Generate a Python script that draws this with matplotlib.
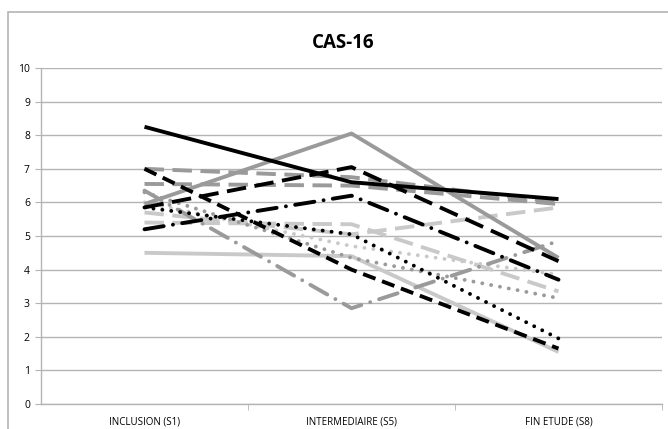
import matplotlib
matplotlib.use("Agg")
import matplotlib.pyplot as plt
from matplotlib.patches import Rectangle

# categories (x axis)
categories = ["INCLUSION (S1)", "INTERMEDIAIRE (S5)", "FIN ETUDE (S8)"]

# one score per visit
black_solid = [8.25, 6.6, 6.1]
gray_solid = [5.95, 8.05, 4.35]
lgray_solid = [4.5, 4.4, 1.55]
black_longdash = [5.85, 7.05, 4.25]
black_dashdot = [5.2, 6.2, 3.7]
black_dash = [7.0, 4.0, 1.65]
black_dot = [5.85, 5.05, 1.95]
gray_dash_a = [7.0, 6.75, 6.0]
gray_dash_b = [6.55, 6.5, 5.95]
gray_dashdot = [6.35, 2.85, 4.85]
gray_dot = [6.3, 4.35, 3.15]
lgray_dash_a = [5.4, 5.35, 3.35]
lgray_dash_b = [5.7, 5.05, 5.85]
lgray_dot = [6.0, 4.7, 3.85]

BLACK = "#000000"
GRAY = "#9a9a9a"
LGRAY = "#c9c9c9"

LONG = (5.0, 2.2)
DASH = (3.4, 1.8)
DOT = (0.01, 2.3)
DASHDOT = (5.0, 2.4, 0.01, 2.4)

series = [
    (lgray_dot, LGRAY, DOT),
    (lgray_dash_b, LGRAY, LONG),
    (lgray_dash_a, LGRAY, LONG),
    (lgray_solid, LGRAY, None),
    (gray_dot, GRAY, DOT),
    (gray_dashdot, GRAY, DASHDOT),
    (gray_dash_b, GRAY, LONG),
    (gray_dash_a, GRAY, LONG),
    (gray_solid, GRAY, None),
    (black_dot, BLACK, DOT),
    (black_dash, BLACK, DASH),
    (black_dashdot, BLACK, DASHDOT),
    (black_longdash, BLACK, LONG),
    (black_solid, BLACK, None),
]

fig = plt.figure(figsize=(6.68, 4.29), dpi=100)
fig.patches.append(Rectangle((8 / 668, -0.1), 1.0, 1.1 - 12 / 429, transform=fig.transFigure,
                             fill=False, edgecolor="#b4b4b4", linewidth=1.2))

ax = fig.add_axes([41 / 668, 25 / 429, 621 / 668, 336 / 429])
x = list(range(len(categories)))
for vals, col, dashes in series:
    line, = ax.plot(x, vals, color=col, linewidth=2.8, solid_capstyle="butt")
    if dashes is not None:
        line.set_dashes(dashes)
        line.set_dash_capstyle("round" if 0.01 in dashes else "butt")

ax.set_xlim(-0.5, 2.5)
ax.set_ylim(0, 10)
ax.set_yticks(range(0, 11))
ax.set_xticks(x)
ax.set_xticklabels(categories, fontsize=7, family="Open Sans")
ax.set_xticks([0.5, 1.5, 2.5], minor=True)
ax.tick_params(axis="x", which="major", length=0, pad=9)
ax.tick_params(axis="x", which="minor", length=4, color="#b4b4b4", direction="out")
ax.tick_params(axis="y", length=4, color="#b4b4b4", labelsize=7.5, pad=4)
for lbl in ax.get_yticklabels():
    lbl.set_family("Open Sans")
ax.grid(axis="y", color="#b4b4b4", linewidth=1)
ax.set_axisbelow(True)
for side in ["top", "right"]:
    ax.spines[side].set_visible(False)
for side in ["left", "bottom"]:
    ax.spines[side].set_color("#b4b4b4")
    ax.spines[side].set_linewidth(1)

fig.text(343 / 668, 1 - 43 / 429, "CAS-16", ha="center", va="center",
         fontsize=13.5, fontweight="bold", family="Open Sans")

plt.savefig("out.png", dpi=100)
